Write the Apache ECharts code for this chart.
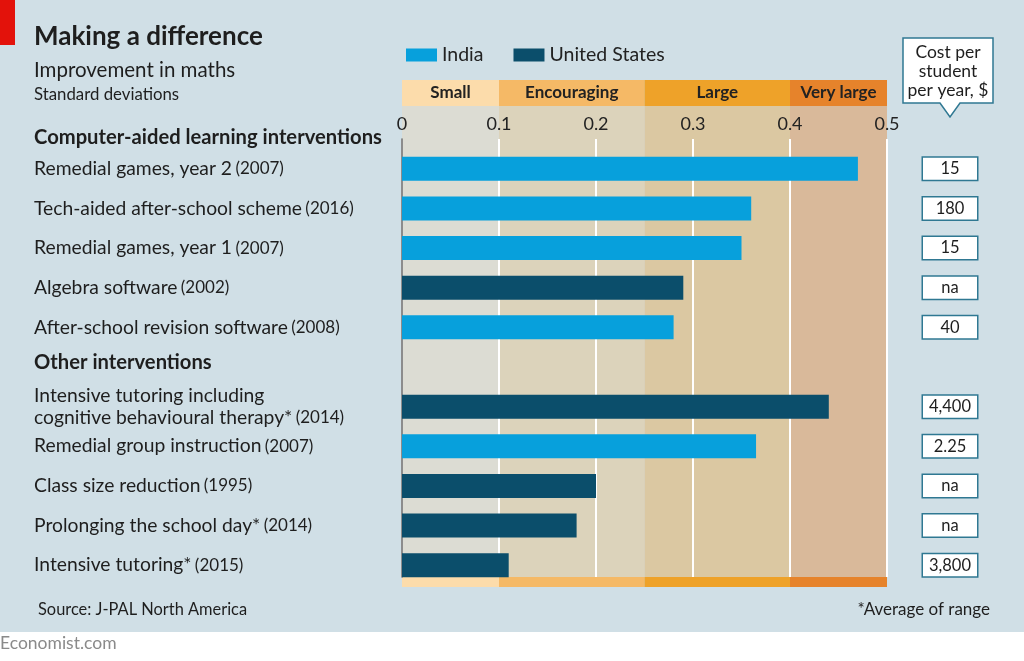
<!DOCTYPE html>
<html><head><meta charset="utf-8">
<script src="https://cdn.jsdelivr.net/npm/echarts@6/dist/echarts.min.js"></script>
<style>
html,body{margin:0;padding:0;}
#c{width:1024px;height:661px;background:linear-gradient(#d0dfe6 0,#d0dfe6 632px,#ffffff 632px);}
</style></head>
<body><div id="c"></div>
<script>
const categories = ['Remedial games, year 2','Tech-aided after-school scheme','Remedial games, year 1','Algebra software','After-school revision software','','Intensive tutoring including\ncognitive behavioural therapy*','Remedial group instruction','Class size reduction','Prolonging the school day*','Intensive tutoring*'];
const years = ['2007','2016','2007','2002','2008','','2014','2007','1995','2014','2015'];
const india = [0.47,0.36,0.35,null,0.28,null,null,0.365,null,null,null];
const us = [null,null,null,0.29,null,null,0.44,null,0.20,0.18,0.11];
const costs = ['15','180','15','na','40','','4,400','2.25','na','na','3,800'];
const bandEdges = [0,0.1,0.25,0.4,0.5];
const bandNames = ['Small','Encouraging','Large','Very large'];
const headerColors = ['#fcdcab','#f5b966','#eea229','#e6832b'];
const shadeColors = ['#dcdcd3','#dcd3bb','#dbc8a2','#d9b99a'];

const FONT = 'Lato';
const chart = echarts.init(document.getElementById('c'), null, {renderer:'canvas'});

const G_LEFT = 402, G_RIGHT = 1024-887;
const grids = [
  {left:G_LEFT, right:G_RIGHT, top:106, height:471},   // 0 shading
  {left:G_LEFT, right:G_RIGHT, top:80, height:26},     // 1 header band
  {left:G_LEFT, right:G_RIGHT, top:577, height:10},    // 2 bottom strip
  {left:G_LEFT, right:G_RIGHT, top:139, height:438},   // 3 gridlines + tick labels
  {left:G_LEFT, right:G_RIGHT, top:149, height:436}    // 4 bars
];
const xAxes = [], yAxes = [];
for (let i=0;i<3;i++){
  xAxes.push({gridIndex:i,type:'value',min:0,max:0.5,show:false});
  yAxes.push({gridIndex:i,type:'category',data:[''],show:false});
}
xAxes.push({gridIndex:3,type:'value',min:0,max:0.5,interval:0.1,position:'top',z:3,
  axisLine:{show:false},axisTick:{show:false},
  axisLabel:{margin:6,fontFamily:FONT,fontSize:18,color:'#222'},
  splitLine:{show:true,lineStyle:{color:'#ffffff',width:2}}});
yAxes.push({gridIndex:3,type:'category',data:[''],z:4,axisTick:{show:false},axisLabel:{show:false},
  axisLine:{show:true,lineStyle:{color:'#666',width:1.5}}});
xAxes.push({gridIndex:4,type:'value',min:0,max:0.5,show:false});
yAxes.push({gridIndex:4,type:'category',inverse:true,data:categories,
  axisLine:{show:false},axisTick:{show:false},
  axisLabel:{align:'left',margin:368,interval:0,
    formatter:(v,i)=>{
      if(!v) return '';
      const lines = v.split('\n');
      return lines.map((l,k)=> '{n|'+l+'}' + (k===lines.length-1 && years[i] ? ' {y|('+years[i]+')}' : '')).join('\n');
    },
    rich:{n:{fontFamily:FONT,fontSize:19.3,color:'#1e1e1e',lineHeight:22},y:{fontFamily:FONT,fontSize:17,color:'#1e1e1e',lineHeight:22}}}});
yAxes.push({gridIndex:4,type:'category',inverse:true,position:'right',data:categories,
  axisLine:{show:false},axisTick:{show:false},
  axisLabel:{margin:63,align:'center',interval:0,
    formatter:(v,i)=> costs[i] ? '{b|'+costs[i]+'}' : '',
    rich:{b:{fontFamily:FONT,fontSize:16.5,color:'#1e1e1e',backgroundColor:'#ffffff',borderColor:'#2f7892',borderWidth:1.5,width:54,height:22,lineHeight:22,align:'center'}}}});

const series = [];
function bandSeries(gridIdx, colors, withLabel){
  for (let b=0;b<bandNames.length;b++){
    series.push({type:'bar',name:'band'+gridIdx+'_'+b,xAxisIndex:gridIdx,yAxisIndex:gridIdx,stack:'s'+gridIdx,
      barWidth:'100%',barCategoryGap:'0%',silent:true,z:1,
      itemStyle:{color:colors[b]},
      label:withLabel?{show:true,position:'inside',formatter:bandNames[b],fontFamily:FONT,fontWeight:'bold',fontSize:17,color:'#222'}:{show:false},
      data:[bandEdges[b+1]-bandEdges[b]]});
  }
}
bandSeries(0, shadeColors, false);
bandSeries(1, headerColors, true);
bandSeries(2, headerColors, false);
series.push({type:'bar',name:'India',xAxisIndex:4,yAxisIndex:4,barWidth:24,barGap:'-100%',z:5,
  itemStyle:{color:'#07a0dc'},data:india});
series.push({type:'bar',name:'United States',xAxisIndex:4,yAxisIndex:4,barWidth:24,barGap:'-100%',z:5,
  itemStyle:{color:'#0b4e6b'},data:us});

function txt(text,x,y,size,opts){
  return Object.assign({type:'text',x:x,y:y,silent:true,style:Object.assign({text:text,fontFamily:FONT,fontSize:size,fill:'#1e1e1e',verticalAlign:'middle',align:'left'},opts||{})});
}

chart.setOption({
  animation:false,
  backgroundColor:'transparent',
  grid:grids, xAxis:xAxes, yAxis:yAxes, series:series,
  legend:{data:['India','United States'],left:401,top:40,icon:'rect',itemWidth:31,itemHeight:13,itemGap:30,
    textStyle:{fontFamily:FONT,fontSize:19.5,color:'#222'}},
  graphic:[
    {type:'rect',shape:{x:0,y:0,width:15,height:45},style:{fill:'#e3120b'}},
    txt('Making a difference',34,37,26,{fontWeight:'bold'}),
    txt('Improvement in maths',34,70,20.5),
    txt('Standard deviations',34,95,16.8),
    txt('Computer-aided learning interventions',34,137,20.2,{fontWeight:'bold'}),
    txt('Other interventions',34,362,20.2,{fontWeight:'bold'}),
    txt('Source: J-PAL North America',38,610,16.4),
    txt('*Average of range',990,610,17,{align:'right'}),
    txt('Economist.com',0,643,17.5,{fill:'#8a8a8a'}),
    {type:'polygon',shape:{points:[[903,38],[993,38],[993,103],[960,103],[950,117],[940,103],[903,103]]},
      style:{fill:'#ffffff',stroke:'#2f7892',lineWidth:1.5}},
    txt('Cost per',948,52,17.5,{align:'center'}),
    txt('student',948,71,17.5,{align:'center'}),
    txt('per year, $',948,90,17.5,{align:'center'})
  ]
});
</script></body></html>
